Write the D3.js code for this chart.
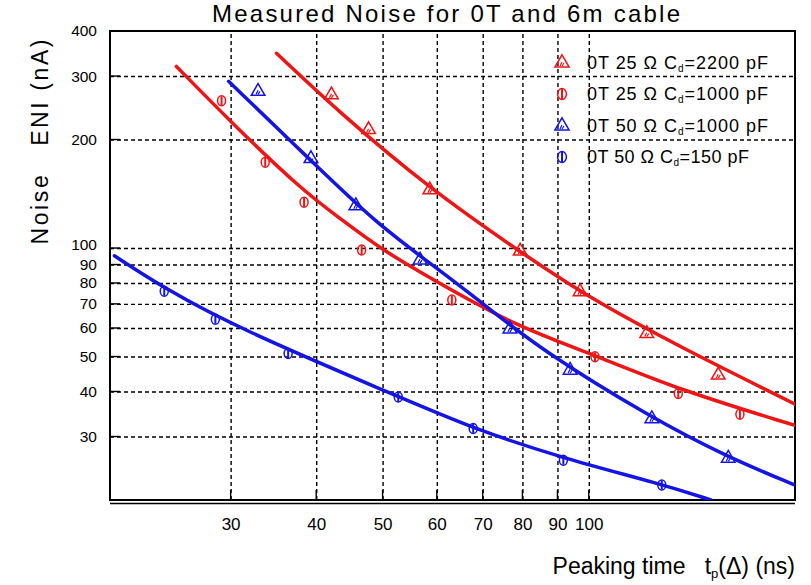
<!DOCTYPE html>
<html>
<head>
<meta charset="utf-8">
<script src="https://cdn.jsdelivr.net/npm/d3@7"></script>
<style>
  body { margin: 0; background: #fff; }
  svg { font-family: "Liberation Sans", "DejaVu Sans", sans-serif; }
  .pre { white-space: pre; }
</style>
</head>
<body>
<svg id="chart" width="811" height="585"></svg>
<script>
// measured points (peaking time ns, noise nA)
const t25_2200 = [42.1, 47.7, 58.6, 79.4, 97.1, 121.5, 154.5];
const n25_2200 = [266, 213, 145, 98, 75.6, 57.9, 44.4];
const t25_1000 = [29.1, 33.7, 38.4, 46.6, 63.1, 102.1, 135.1, 166.2];
const n25_1000 = [256, 173, 134, 98.7, 71.7, 49.9, 39.5, 34.6];
const t50_1000 = [32.9, 39.3, 45.7, 56.7, 76.7, 93.9, 123.6, 159.8];
const n50_1000 = [272, 177, 131, 92.6, 59.6, 45.8, 33.6, 26.1];
const t50_150 = [24.0, 28.5, 36.4, 52.7, 67.8, 91.8, 127.8];
const n50_150 = [75.9, 63.5, 51.0, 38.6, 31.6, 25.8, 22.0];

// fitted curves
const fitT25_2200 = [35.0, 43.3, 58.6, 79.4, 100.4, 135, 200];
const fitN25_2200 = [347, 237, 146, 97.5, 72.5, 53.5, 36.9];
const fitT25_1000 = [25.0, 30.0, 38.1, 43.3, 49.9, 60.0, 78.5, 102.1, 135, 200];
const fitN25_1000 = [319, 224, 145, 121, 98.7, 80.6, 60.5, 50.5, 40.5, 32.2];
const fitT50_1000 = [29.8, 39.4, 48.7, 59.6, 70.5, 85.3, 122.8, 159.5, 200];
const fitN50_1000 = [290, 174, 118, 88.7, 69.5, 52.1, 34.0, 26.3, 22.0];
const fitT50_150 = [20.3, 24.0, 30.8, 52.9, 67.7, 91.7, 127, 150.8];
const fitN50_150 = [95.2, 77.3, 59.8, 38.6, 31.6, 26.1, 22.2, 20.0];

const xTicks = [30, 40, 50, 60, 70, 80, 90, 100];
const yGrid = [30, 40, 50, 60, 70, 80, 90, 100, 200, 300];
const yLabels = [30, 40, 50, 60, 70, 80, 90, 100, 200, 300, 400];

const seriesNames = ["25 \u03A9", "25 \u03A9", "50 \u03A9", "50 \u03A9"];
const seriesCap = ["2200", "1000", "1000", "150"];
const seriesColor = ["#f01414", "#f01414", "#1414e6", "#1414e6"];
const seriesShape = ["triangle", "circle", "triangle", "circle"];

const svg = d3.select("#chart");
const x = d3.scaleLog().domain([20, 200]).range([110, 795]);
const y = d3.scaleLog().domain([20, 400]).range([500, 31]);

const series = [
  {t: t25_2200, n: n25_2200, ft: fitT25_2200, fn: fitN25_2200},
  {t: t25_1000, n: n25_1000, ft: fitT25_1000, fn: fitN25_1000},
  {t: t50_1000, n: n50_1000, ft: fitT50_1000, fn: fitN50_1000},
  {t: t50_150, n: n50_150, ft: fitT50_150, fn: fitN50_150}
];

// title
svg.append("text")
  .attr("x", 446).attr("y", 22)
  .attr("text-anchor", "middle")
  .attr("font-size", 24)
  .attr("textLength", 468).attr("lengthAdjust", "spacing")
  .text("Measured Noise for 0T and 6m cable");

// x grid + labels
const xAxis = svg.append("g")
  .attr("transform", "translate(0,500)")
  .call(d3.axisBottom(x).tickValues(xTicks).tickFormat(d3.format("d"))
    .tickSize(-(500 - 31)).tickPadding(18));
xAxis.select(".domain").remove();
xAxis.selectAll(".tick line")
  .attr("stroke", "#000").attr("stroke-width", 1.4).attr("stroke-dasharray", "4,3");
xAxis.selectAll(".tick text").attr("font-size", 17).attr("fill", "#000")
  .attr("font-family", "Liberation Sans, sans-serif");

// y grid
const yAxis = svg.append("g")
  .attr("transform", "translate(110,0)")
  .call(d3.axisLeft(y).tickValues(yGrid).tickFormat("").tickSize(-(795 - 110)));
yAxis.select(".domain").remove();
yAxis.selectAll(".tick line")
  .attr("stroke", "#000").attr("stroke-width", 1.4).attr("stroke-dasharray", "4,3");

// y labels (100 and 90 sit very close, nudge 100 up a little)
const yLab = svg.append("g")
  .attr("transform", "translate(110,0)")
  .call(d3.axisLeft(y).tickValues(yLabels).tickFormat(d3.format("d")).tickSize(0).tickPadding(13));
yLab.select(".domain").remove();
yLab.selectAll(".tick text").attr("font-size", 15.5).attr("fill", "#000")
  .attr("font-family", "Liberation Sans, sans-serif")
  .attr("y", d => d === 100 ? -4 : 0);

// solid little ticks on the frame
svg.append("g").selectAll("line").data(xTicks).join("line")
  .attr("x1", d => x(d)).attr("x2", d => x(d))
  .attr("y1", 500).attr("y2", 490)
  .attr("stroke", "#000").attr("stroke-width", 1.4);
svg.append("g").selectAll("line").data(yGrid).join("line")
  .attr("x1", 110).attr("x2", 120)
  .attr("y1", d => y(d)).attr("y2", d => y(d))
  .attr("stroke", "#000").attr("stroke-width", 1.4);

// frame
svg.append("rect")
  .attr("x", 110).attr("y", 31).attr("width", 795 - 110).attr("height", 500 - 31)
  .attr("fill", "none").attr("stroke", "#000").attr("stroke-width", 2);
svg.append("line")
  .attr("x1", 110).attr("x2", 795).attr("y1", 503.5).attr("y2", 503.5)
  .attr("stroke", "#000").attr("stroke-width", 1.5);

// clip to plot area
svg.append("clipPath").attr("id", "plotclip")
  .append("rect").attr("x", 110).attr("y", 31).attr("width", 685).attr("height", 469);

const plot = svg.append("g").attr("clip-path", "url(#plotclip)");

const line = d3.line()
  .x(d => x(d[0]))
  .y(d => y(d[1]))
  .curve(d3.curveBasis);

series.forEach((s, i) => {
  plot.append("path")
    .datum(d3.zip(s.ft, s.fn))
    .attr("d", line)
    .attr("fill", "none")
    .attr("stroke", seriesColor[i])
    .attr("stroke-width", 3.5)
    .attr("stroke-linecap", "round");
});

function drawMarker(g, shape, color, cx, cy, size) {
  const m = g.append("g").attr("transform", `translate(${cx},${cy})`);
  if (shape === "triangle") {
    m.append("path")
      .attr("d", d3.symbol(d3.symbolTriangle, size * 8)())
      .attr("fill", "none").attr("stroke", color).attr("stroke-width", 1.5);
    m.append("path")
      .attr("d", "M-2,3L0,-1M0,3L2,0")
      .attr("stroke", color).attr("stroke-width", 1.2);
  } else {
    m.append("ellipse")
      .attr("rx", size * 0.4).attr("ry", size * 0.5)
      .attr("fill", "none").attr("stroke", color).attr("stroke-width", 1.5);
    m.append("line")
      .attr("x1", 0).attr("x2", 0).attr("y1", -size * 0.45).attr("y2", size * 0.45)
      .attr("stroke", color).attr("stroke-width", 2);
  }
}

series.forEach((s, i) => {
  s.t.forEach((t, j) => {
    drawMarker(plot, seriesShape[i], seriesColor[i], x(t), y(s.n[j]), 10);
  });
});

// legend
const legY = [63, 94, 126, 157];
seriesNames.forEach((name, i) => {
  drawMarker(svg, seriesShape[i], seriesColor[i], 562, legY[i], 11);
  const tx = svg.append("text")
    .attr("x", 587).attr("y", legY[i] + 6)
    .attr("font-size", 18).attr("fill", "#000")
    .attr("textLength", i === 3 ? 162 : 181).attr("lengthAdjust", "spacing");
  tx.append("tspan").text("0T " + name + " C");
  tx.append("tspan").attr("font-size", 10).attr("dy", 3).text("d");
  tx.append("tspan").attr("dy", -3).text("=" + seriesCap[i] + " pF");
});

// axis titles
svg.append("text")
  .attr("class", "pre")
  .attr("transform", "translate(48,142) rotate(-90)")
  .attr("text-anchor", "middle")
  .attr("font-size", 23)
  .attr("textLength", 205).attr("lengthAdjust", "spacing")
  .text("Noise   ENI (nA)");

const xt = svg.append("text")
  .attr("class", "pre")
  .attr("x", 795).attr("y", 574)
  .attr("text-anchor", "end")
  .attr("font-size", 23);
xt.append("tspan").text("Peaking time   t");
xt.append("tspan").attr("font-size", 13).attr("dy", 4).text("p");
xt.append("tspan").attr("dy", -4).text("(\u0394) (ns)");
</script>
</body>
</html>
